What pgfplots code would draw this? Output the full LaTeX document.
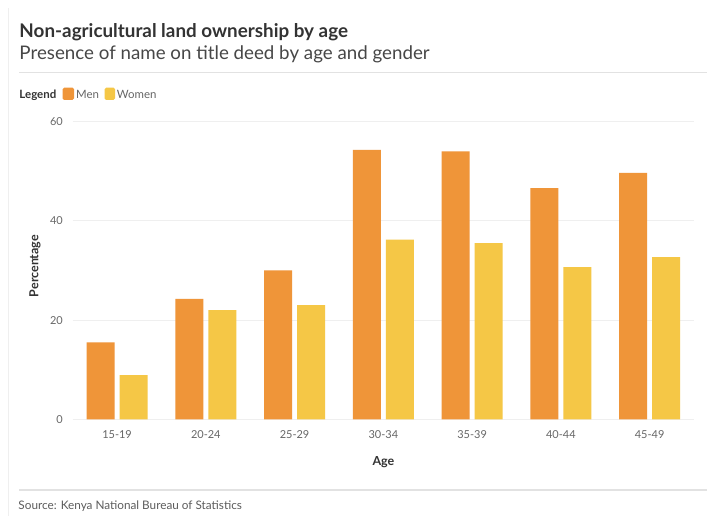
\documentclass[border=0pt]{standalone}
\usepackage{pgfplots}
\pgfplotsset{compat=1.18}
\usepackage{fontspec}
\setmainfont{Lato}
\definecolor{men}{HTML}{EF9539}
\definecolor{women}{HTML}{F5C746}
\definecolor{gridc}{HTML}{EFEFEF}
\definecolor{ticktxt}{HTML}{666666}
\definecolor{titletxt}{HTML}{333333}
\definecolor{sepc}{HTML}{E2E2E2}
\begin{document}
\begin{tikzpicture}[x=1bp,y=1bp]
\useasboundingbox (0,0) rectangle (707,516);
\fill[white] (0,0) rectangle (707,516);
\draw[color=gridc, line width=1bp] (8,0) -- (8,508);
\node[anchor=base west, inner sep=0, font=\fontsize{18.9}{21}\selectfont\bfseries, text=titletxt] at (19.3,478.7) {Non-agricultural land ownership by age};
\node[anchor=base west, inner sep=0, font=\fontsize{18.8}{21}\selectfont, text=titletxt!90] at (19.3,456.7) {Presence of name on title deed by age and gender};
\draw[color=sepc, line width=1.3bp] (19,443.7) -- (707,443.7);
\node[anchor=base west, inner sep=0, font=\fontsize{11.5}{13}\selectfont\bfseries, text=titletxt] at (19.3,417.7) {Legend};
\fill[men, rounded corners=1.5bp] (62.7,416) rectangle (74,428.3);
\node[anchor=base west, inner sep=0, font=\fontsize{11.5}{13}\selectfont, text=ticktxt] at (76,417.7) {Men};
\fill[women, rounded corners=1.5bp] (104.7,416) rectangle (115,428.3);
\node[anchor=base west, inner sep=0, font=\fontsize{11.5}{13}\selectfont, text=ticktxt] at (116.7,417.7) {Women};
\node[rotate=90, inner sep=0, font=\fontsize{12.5}{14}\selectfont\bfseries, text=titletxt] at (35,250) {Percentage};
\node[inner sep=0, font=\fontsize{12.5}{14}\selectfont\bfseries, text=titletxt] at (383.4,54) {Age};
\draw[color=sepc, line width=1.3bp] (19,26) -- (707,26);
\node[anchor=base west, inner sep=0, font=\fontsize{11.8}{13}\selectfont, text=ticktxt!90!black] at (18.3,6) {Source: Kenya National Bureau of Statistics};
\begin{axis}[
  at={(72.7bp,96.7bp)}, anchor=south west,
  scale only axis, width=621.3bp, height=297.6bp,
  xmin=-0.5, xmax=6.5, ymin=0, ymax=60,
  ytick={0,20,40,60},
  xtick={0,1,2,3,4,5,6},
  xticklabels={15-19,20-24,25-29,30-34,35-39,40-44,45-49},
  axis line style={draw=none},
  major tick length=0pt,
  ymajorgrids,
  grid style={color=gridc, line width=0.9bp},
  /pgf/number format/assume math mode=true,
  ticklabel style={font=\fontsize{11}{13}\selectfont, text=ticktxt},
  xticklabel style={anchor=center, yshift=-15bp},
  yticklabel style={anchor=east, inner sep=0pt, xshift=-9.7bp},
  clip=false,
]
\addplot[ybar, fill=men, draw=none, bar width=0.3155, bar shift=-0.186]
  coordinates {(0,15.5) (1,24.3) (2,30.0) (3,54.3) (4,54.0) (5,46.6) (6,49.7)};
\addplot[ybar, fill=women, draw=none, bar width=0.3155, bar shift=0.186]
  coordinates {(0,8.9) (1,22.0) (2,23.0) (3,36.2) (4,35.5) (5,30.7) (6,32.7)};
\end{axis}
\end{tikzpicture}
\end{document}
